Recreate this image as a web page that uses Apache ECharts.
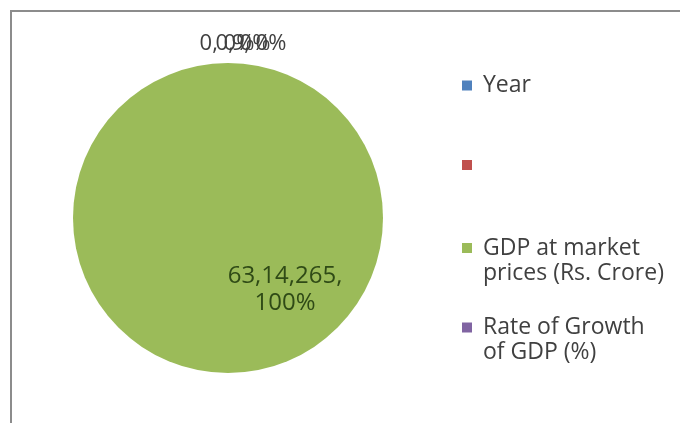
<!DOCTYPE html>
<html>
<head>
<meta charset="utf-8">
<script src="https://cdn.jsdelivr.net/npm/echarts@6/dist/echarts.min.js"></script>
<style>
  html, body { margin: 0; padding: 0; background: #fff; }
  #chart { width: 680px; height: 423px; }
</style>
</head>
<body>
<div id="chart"></div>
<script>
// Pie of GDP figures: category names, their values and slice colours
const categories = ['Year', ' ', 'GDP at market prices (Rs. Crore)', 'Rate of Growth of GDP (%)'];
const legendLabels = ['Year', '', 'GDP at market\nprices (Rs. Crore)', 'Rate of Growth\nof GDP (%)'];
const values = [0, 0, 6314265, 9];
const colors = ['#4f81bd', '#c0504d', '#9bbb59', '#8064a2'];

// Indian digit grouping, e.g. 6314265 -> 63,14,265
function formatIndian(n) {
  const s = String(Math.round(n));
  if (s.length <= 3) return s;
  const last3 = s.slice(-3);
  let rest = s.slice(0, -3);
  const parts = [];
  while (rest.length > 2) { parts.unshift(rest.slice(-2)); rest = rest.slice(0, -2); }
  if (rest.length) parts.unshift(rest);
  return parts.join(',') + ',' + last3;
}

const FONT = 'Open Sans';
const CX = 228, CY = 218, R = 155;
// horizontal spread of the crowded labels above the pie
const topLabelX = [227, 243, 259];
const legendTops = [73, 160, 210.5, 290];

const chart = echarts.init(document.getElementById('chart'));
const option = {
  animation: false,
  color: colors,
  graphic: [{
    type: 'rect',
    shape: { x: 11, y: 11, width: 720, height: 440 },
    style: { fill: 'none', stroke: '#8c8c8c', lineWidth: 2 }
  }],
  legend: [0, 1, 2, 3].map((i) => ({
    orient: 'vertical',
    left: 462,
    top: legendTops[i],
    padding: 0,
    itemWidth: 10,
    itemHeight: 10,
    itemGap: 0,
    icon: 'rect',
    data: [categories[i]],
    // a leading blank line keeps the marker level with the first text line
    formatter: () => (legendLabels[i].includes('\n') ? '\n' : '') + legendLabels[i],
    textStyle: { fontFamily: FONT, fontSize: 23, color: '#404040', lineHeight: 25, padding: [0, 0, 0, 6] }
  })),
  series: [{
    type: 'pie',
    center: [CX, CY],
    radius: R,
    startAngle: 90,
    clockwise: true,
    avoidLabelOverlap: false,
    itemStyle: { borderWidth: 0 },
    labelLine: { show: false },
    label: {
      fontFamily: FONT,
      fontSize: 22,
      lineHeight: 27,
      color: '#404040',
      formatter: (p) => formatIndian(p.value) + ',' + (p.value > 1000 ? '\n' : ' ') + Math.round(p.percent) + '%'
    },
    labelLayout: (p) => {
      if (p.dataIndex === 2) {
        return { x: CX + 57, y: CY + 72, align: 'center', verticalAlign: 'middle' };
      }
      const k = p.dataIndex === 3 ? 2 : p.dataIndex;
      return { x: topLabelX[k], y: 44, align: 'center', verticalAlign: 'middle' };
    },
    data: categories.map((name, i) => ({
      name,
      value: values[i],
      label: i === 2
        ? { position: 'inside', color: '#2f4a16', align: 'center', fontSize: 24 }
        : { position: 'outside' }
    }))
  }]
};
chart.setOption(option);
</script>
</body>
</html>
